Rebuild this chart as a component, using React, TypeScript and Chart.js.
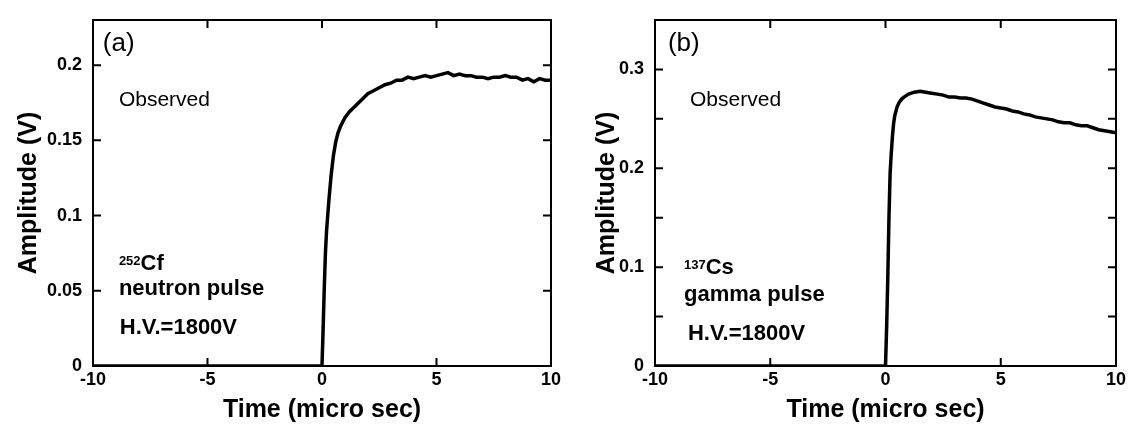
import React, { useEffect, useRef } from 'react';
import { Chart, registerables } from 'chart.js';

Chart.register(...registerables);

const FONT = "'Liberation Sans', Arial, Helvetica, sans-serif";

// ---------- data ----------
const X_TICKS = [-10, -5, 0, 5, 10];
const X_TOP_TICKS = [-5, 0, 5];

const A_Y_TICKS = [0, 0.05, 0.1, 0.15, 0.2];
const A_Y_LABELS = ['0', '0.05', '0.1', '0.15', '0.2'];
const A_Y_MINOR: number[] = [];

const B_Y_TICKS = [0, 0.1, 0.2, 0.3];
const B_Y_LABELS = ['0', '0.1', '0.2', '0.3'];
const B_Y_MINOR = [0.05, 0.15, 0.25];

// (a) 252Cf neutron pulse
const A_TIME = [
  -10, 0, 0.05, 0.1, 0.15, 0.2, 0.25, 0.3, 0.4, 0.5, 0.6, 0.7, 0.8, 1.0, 1.2, 1.4, 1.6, 1.8, 2.0,
  2.25, 2.5, 2.75, 3.0, 3.25, 3.5, 3.75, 4.0, 4.25, 4.5, 4.75, 5.0, 5.25, 5.5, 5.75, 6.0, 6.25,
  6.5, 6.75, 7.0, 7.25, 7.5, 7.75, 8.0, 8.25, 8.5, 8.75, 9.0, 9.25, 9.5, 9.75, 10,
];
const A_AMP = [
  0, 0, 0.025, 0.052, 0.075, 0.09, 0.1, 0.11, 0.127, 0.14, 0.149, 0.155, 0.159, 0.165, 0.169,
  0.172, 0.175, 0.178, 0.181, 0.183, 0.185, 0.187, 0.188, 0.19, 0.19, 0.192, 0.191, 0.192,
  0.193, 0.192, 0.193, 0.194, 0.195, 0.193, 0.194, 0.193, 0.193, 0.192, 0.192, 0.191, 0.192,
  0.192, 0.193, 0.192, 0.192, 0.19, 0.191, 0.189, 0.191, 0.19, 0.19,
];

// (b) 137Cs gamma pulse
const B_TIME = [
  -10, 0, 0.05, 0.1, 0.15, 0.2, 0.25, 0.3, 0.35, 0.4, 0.5, 0.6, 0.7, 0.8, 1.0, 1.25, 1.5, 1.75,
  2.0, 2.25, 2.5, 2.75, 3.0, 3.25, 3.5, 3.75, 4.0, 4.25, 4.5, 4.75, 5.0, 5.25, 5.5, 5.75, 6.0,
  6.25, 6.5, 6.75, 7.0, 7.25, 7.5, 7.75, 8.0, 8.25, 8.5, 8.75, 9.0, 9.25, 9.5, 9.75, 10,
];
const B_AMP = [
  0, 0, 0.04, 0.09, 0.15, 0.195, 0.215, 0.232, 0.245, 0.253, 0.262, 0.267, 0.27, 0.272, 0.275,
  0.277, 0.278, 0.277, 0.276, 0.275, 0.274, 0.272, 0.272, 0.271, 0.271, 0.27, 0.268, 0.266,
  0.264, 0.262, 0.261, 0.26, 0.258, 0.257, 0.255, 0.254, 0.252, 0.251, 0.25, 0.249, 0.247,
  0.246, 0.246, 0.244, 0.243, 0.243, 0.241, 0.239, 0.238, 0.237, 0.236,
];

type Note = { x: number; y: number; text: string; sup?: string; size: number; bold: boolean };

const A_NOTES: Note[] = [
  { x: -9.57, y: 0.2097, text: '(a)', size: 26, bold: false },
  { x: -8.87, y: 0.1728, text: 'Observed', size: 21, bold: false },
  { x: -8.87, y: 0.064, text: 'Cf', sup: '252', size: 22, bold: true },
  { x: -8.87, y: 0.0472, text: 'neutron pulse', size: 22, bold: true },
  { x: -8.83, y: 0.0213, text: 'H.V.=1800V', size: 22, bold: true },
];

const B_NOTES: Note[] = [
  { x: -9.44, y: 0.319, text: '(b)', size: 26, bold: false },
  { x: -8.48, y: 0.263, text: 'Observed', size: 21, bold: false },
  { x: -8.74, y: 0.0934, text: 'Cs', sup: '137', size: 22, bold: true },
  { x: -8.74, y: 0.0659, text: 'gamma pulse', size: 22, bold: true },
  { x: -8.57, y: 0.0265, text: 'H.V.=1800V', size: 22, bold: true },
];

// ---------- plugins ----------
const framePlugin = {
  id: 'frame',
  afterDraw(chart: any, _args: any, opts: any) {
    const { ctx, chartArea: a } = chart;
    const xs = chart.scales.x;
    const ys = chart.scales.y;
    const L = 8;
    ctx.save();
    ctx.strokeStyle = '#000';
    ctx.lineWidth = 2;
    ctx.strokeRect(a.left, a.top, a.right - a.left, a.bottom - a.top);
    ctx.beginPath();
    for (const v of opts.xTicks) {
      const px = xs.getPixelForValue(v);
      ctx.moveTo(px, a.bottom);
      ctx.lineTo(px, a.bottom - L);
    }
    for (const v of opts.xTop) {
      const px = xs.getPixelForValue(v);
      ctx.moveTo(px, a.top);
      ctx.lineTo(px, a.top + L);
    }
    for (const v of [...opts.yTicks, ...opts.yMinor]) {
      const py = ys.getPixelForValue(v);
      ctx.moveTo(a.left, py);
      ctx.lineTo(a.left + L, py);
      ctx.moveTo(a.right, py);
      ctx.lineTo(a.right - L, py);
    }
    ctx.stroke();
    ctx.restore();
  },
};

const notesPlugin = {
  id: 'notes',
  afterDraw(chart: any, _args: any, opts: any) {
    const { ctx } = chart;
    const xs = chart.scales.x;
    const ys = chart.scales.y;
    ctx.save();
    ctx.fillStyle = '#000';
    ctx.textBaseline = 'alphabetic';
    ctx.textAlign = 'left';
    for (const n of opts.notes as Note[]) {
      let px = xs.getPixelForValue(n.x);
      const py = ys.getPixelForValue(n.y);
      if (n.sup) {
        ctx.font = `bold 13px ${FONT}`;
        ctx.fillText(n.sup, px, py - 5);
        px += ctx.measureText(n.sup).width;
      }
      ctx.font = `${n.bold ? 'bold ' : ''}${n.size}px ${FONT}`;
      ctx.fillText(n.text, px, py);
    }
    ctx.restore();
  },
};

type PanelCfg = {
  time: number[];
  amp: number[];
  yMax: number;
  yTicks: number[];
  yLabels: string[];
  yMinor: number[];
  yWidth: number;
  padRight: number;
  yTitlePad: number;
  notes: Note[];
};

function Panel({ cfg, left }: { cfg: PanelCfg; left: number }) {
  const ref = useRef<HTMLCanvasElement>(null);
  useEffect(() => {
    const tickFont = { family: FONT, size: 18, weight: 'bold' as const, lineHeight: 1 };
    const titleFont = { family: FONT, size: 25, weight: 'bold' as const, lineHeight: 1.2 };
    const chart = new Chart(ref.current!, {
      type: 'scatter',
      data: {
        datasets: [
          {
            data: cfg.time.map((t, i) => ({ x: t, y: cfg.amp[i] })),
            showLine: true,
            borderColor: '#000',
            backgroundColor: '#000',
            borderWidth: 3.5,
            pointRadius: 0,
            fill: false,
            tension: 0,
          },
        ],
      },
      options: {
        responsive: false,
        animation: false,
        devicePixelRatio: 1,
        layout: { padding: { left: 0, top: 10, right: cfg.padRight, bottom: 0 } },
        plugins: {
          legend: { display: false },
          tooltip: { enabled: false },
          frame: { xTicks: X_TICKS, xTop: X_TOP_TICKS, yTicks: cfg.yTicks, yMinor: cfg.yMinor },
          notes: { notes: cfg.notes },
        } as any,
        scales: {
          x: {
            type: 'linear',
            min: -10,
            max: 10,
            grid: { display: false, drawTicks: false },
            border: { display: false },
            afterBuildTicks: (s: any) => {
              s.ticks = X_TICKS.map((v) => ({ value: v }));
            },
            afterFit: (s: any) => {
              s.height = 60;
            },
            ticks: {
              padding: 5,
              color: '#000',
              font: tickFont,
              maxRotation: 0,
              autoSkip: false,
              callback: (v: any) => String(v),
            },
            title: {
              display: true,
              text: 'Time (micro sec)',
              color: '#000',
              font: titleFont,
              padding: { top: 0, bottom: 1 },
            },
          },
          y: {
            type: 'linear',
            min: 0,
            max: cfg.yMax,
            grid: { display: false, drawTicks: false },
            border: { display: false },
            afterBuildTicks: (s: any) => {
              s.ticks = cfg.yTicks.map((v) => ({ value: v }));
            },
            afterFit: (s: any) => {
              s.width = cfg.yWidth;
            },
            ticks: {
              padding: 11,
              color: '#000',
              font: tickFont,
              autoSkip: false,
              callback: (v: any) => {
                const i = cfg.yTicks.findIndex((t) => Math.abs(t - v) < 1e-9);
                return i >= 0 ? cfg.yLabels[i] : '';
              },
            },
            title: {
              display: true,
              text: 'Amplitude (V)',
              color: '#000',
              font: titleFont,
              padding: { top: cfg.yTitlePad, bottom: 0 },
            },
          },
        },
      },
      plugins: [framePlugin, notesPlugin],
    } as any);
    return () => chart.destroy();
  }, [cfg]);
  return (
    <canvas
      ref={ref}
      width={566}
      height={426}
      style={{ position: 'absolute', left, top: 0, width: 566, height: 426 }}
    />
  );
}

const PANEL_A: PanelCfg = {
  time: A_TIME,
  amp: A_AMP,
  yMax: 0.23,
  yTicks: A_Y_TICKS,
  yLabels: A_Y_LABELS,
  yMinor: A_Y_MINOR,
  yWidth: 93,
  padRight: 12,
  yTitlePad: 14,
  notes: A_NOTES,
};

const PANEL_B: PanelCfg = {
  time: B_TIME,
  amp: B_AMP,
  yMax: 0.35,
  yTicks: B_Y_TICKS,
  yLabels: B_Y_LABELS,
  yMinor: B_Y_MINOR,
  yWidth: 89,
  padRight: 16,
  yTitlePad: 26,
  notes: B_NOTES,
};

export default function App() {
  return (
    <div
      style={{
        position: 'fixed',
        left: 0,
        top: 0,
        width: 1132,
        height: 426,
        background: '#fff',
        overflow: 'hidden',
      }}
    >
      <Panel cfg={PANEL_A} left={0} />
      <Panel cfg={PANEL_B} left={566} />
    </div>
  );
}
